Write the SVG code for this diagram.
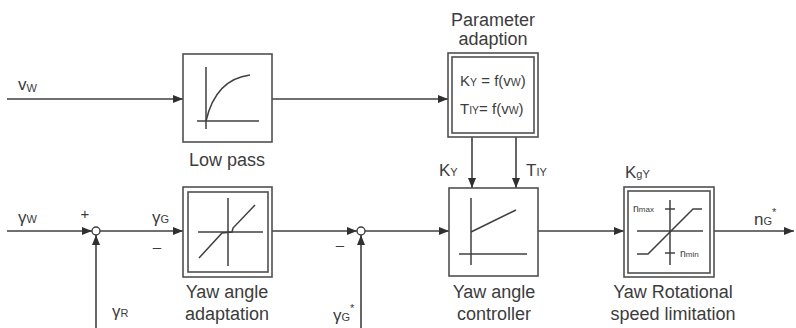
<svg xmlns="http://www.w3.org/2000/svg" width="796" height="328" viewBox="0 0 796 328">
<style>
.ln{stroke:#404040;stroke-width:1.6;fill:none}
.bx{stroke:#505050;stroke-width:1.6;fill:#fff}
.ch{stroke:#404040;stroke-width:1.5;fill:none}
text{font-family:"Liberation Sans",Arial,sans-serif;fill:#3c3c3c}
.lb{font-size:18px;text-anchor:middle}
.sy{font-size:17px}
.sb{font-size:11px}
.fx{font-size:15px}
.sm{font-size:10.5px}
</style>
<defs>
<marker id="ar" viewBox="0 0 10 8" refX="10" refY="4" markerWidth="10" markerHeight="8" markerUnits="userSpaceOnUse" orient="auto">
<path d="M0,0 L10,4 L0,8 z" fill="#303030"/>
</marker>
</defs>
<g id="connectors">
<line class="ln" x1="7" y1="99" x2="183" y2="99" marker-end="url(#ar)"/>
<line class="ln" x1="272" y1="99" x2="448" y2="99" marker-end="url(#ar)"/>
<line class="ln" x1="472" y1="137" x2="472" y2="188" marker-end="url(#ar)"/>
<line class="ln" x1="516" y1="137" x2="516" y2="188" marker-end="url(#ar)"/>
<line class="ln" x1="7" y1="231" x2="92" y2="231" marker-end="url(#ar)"/>
<line class="ln" x1="96" y1="328" x2="96" y2="235" marker-end="url(#ar)"/>
<line class="ln" x1="100" y1="231" x2="183" y2="231" marker-end="url(#ar)"/>
<line class="ln" x1="272" y1="231" x2="357" y2="231" marker-end="url(#ar)"/>
<line class="ln" x1="361" y1="328" x2="361" y2="235" marker-end="url(#ar)"/>
<line class="ln" x1="365" y1="231" x2="449" y2="231" marker-end="url(#ar)"/>
<line class="ln" x1="538" y1="231" x2="624" y2="231" marker-end="url(#ar)"/>
<line class="ln" x1="714" y1="231" x2="794" y2="231" marker-end="url(#ar)"/>
</g>
<g id="labels">
<text x="18" y="90"><tspan class="sy">v</tspan><tspan class="sb" dy="2">W</tspan></text>
<text x="18" y="223"><tspan class="sy">γ</tspan><tspan class="sb">W</tspan></text>
<text x="85" y="219" class="fx" text-anchor="middle">+</text>
<text x="152" y="223"><tspan class="sy">γ</tspan><tspan class="sb">G</tspan></text>
<text x="157" y="252" class="fx" text-anchor="middle">–</text>
<text x="112" y="317"><tspan class="sy">γ</tspan><tspan class="sb">R</tspan></text>
<text x="340" y="250" class="fx" text-anchor="middle">–</text>
<text x="333" y="321"><tspan class="sy">γ</tspan><tspan class="sb">G</tspan><tspan class="sb" dy="-9">*</tspan></text>
<text x="439" y="176"><tspan class="sy">K</tspan><tspan class="sb">Y</tspan></text>
<text x="526" y="176"><tspan class="sy">T</tspan><tspan class="sb">IY</tspan></text>
<text x="625" y="178"><tspan class="sy">K</tspan><tspan class="sb">gY</tspan></text>
<text x="754" y="225"><tspan class="sy">n</tspan><tspan class="sb">G</tspan><tspan class="sb" dy="-9">*</tspan></text>
</g>
<g id="lowpass">
<rect class="bx" x="183" y="54" width="89" height="88"/>
<line class="ch" x1="206" y1="67" x2="206" y2="129"/>
<line class="ch" x1="197" y1="121" x2="259" y2="121"/>
<path class="ch" d="M206,121 C212,95 226,78 250,75"/>
<text class="lb" x="227" y="166">Low pass</text>
</g>
<g id="param">
<text class="lb" x="493" y="26">Parameter</text>
<text class="lb" x="493" y="45">adaption</text>
<rect class="bx" x="448" y="53" width="90" height="84"/>
<rect class="bx" x="452" y="57" width="82" height="76"/>
<text x="460" y="86"><tspan class="fx">K</tspan><tspan class="sm">Y</tspan><tspan class="fx"> = f(v</tspan><tspan class="sm">W</tspan><tspan class="fx">)</tspan></text>
<text x="460" y="114"><tspan class="fx">T</tspan><tspan class="sm">IY</tspan><tspan class="fx">= f(v</tspan><tspan class="sm">W</tspan><tspan class="fx">)</tspan></text>
</g>
<g id="sum1">
<circle cx="96" cy="231" r="4" fill="#fff" stroke="#404040" stroke-width="1.4"/>
</g>
<g id="adaptation">
<rect class="bx" x="183" y="187" width="89" height="90"/>
<rect class="bx" x="188" y="192" width="80" height="80"/>
<line class="ch" x1="228" y1="198" x2="228" y2="266"/>
<line class="ch" x1="198" y1="232" x2="263" y2="232"/>
<polyline class="ch" points="199,258 222,233 232,232 233,228 255,205"/>
<text class="lb" x="227" y="298">Yaw angle</text>
<text class="lb" x="227" y="320">adaptation</text>
</g>
<g id="sum2">
<circle cx="361" cy="231" r="4" fill="#fff" stroke="#404040" stroke-width="1.4"/>
</g>
<g id="controller">
<rect class="bx" x="449" y="188" width="89" height="88"/>
<line class="ch" x1="471" y1="198" x2="471" y2="265"/>
<line class="ch" x1="459" y1="254" x2="527" y2="254"/>
<line class="ch" x1="471" y1="232" x2="516" y2="210"/>
<text class="lb" x="494" y="298">Yaw angle</text>
<text class="lb" x="494" y="320">controller</text>
</g>
<g id="limitation">
<rect class="bx" x="624" y="187" width="90" height="90"/>
<rect class="bx" x="628" y="191" width="82" height="82"/>
<line class="ch" x1="670" y1="200" x2="670" y2="265"/>
<line class="ch" x1="637" y1="231" x2="703" y2="231"/>
<line class="ch" x1="665" y1="209" x2="675" y2="209"/>
<line class="ch" x1="665" y1="253" x2="675" y2="253"/>
<polyline class="ch" points="637,254 648,254 693,209 702,209"/>
<text x="633" y="212"><tspan class="sm">n</tspan><tspan font-size="8px">max</tspan></text>
<text x="680" y="257"><tspan class="sm">n</tspan><tspan font-size="8px">min</tspan></text>
<text class="lb" x="673" y="298">Yaw Rotational</text>
<text class="lb" x="673" y="320">speed limitation</text>
</g>
</svg>
